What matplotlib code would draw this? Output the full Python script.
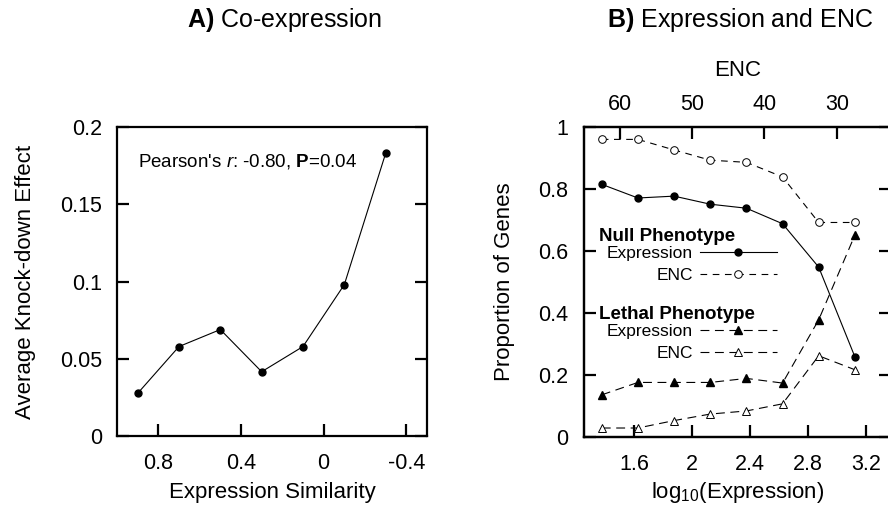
import matplotlib
matplotlib.use("Agg")
import matplotlib.pyplot as plt
from matplotlib.ticker import FormatStrFormatter

plt.rcParams["font.family"] = ["Liberation Sans", "DejaVu Sans"]
plt.rcParams["mathtext.fontset"] = "custom"
plt.rcParams["mathtext.rm"] = "Liberation Sans"
plt.rcParams["mathtext.it"] = "Liberation Sans:italic"
plt.rcParams["mathtext.bf"] = "Liberation Sans:bold"
plt.rcParams["axes.unicode_minus"] = False

# panel A: co-expression
similarity = [0.9, 0.7, 0.5, 0.3, 0.1, -0.1, -0.3]
knockdown = [0.0276, 0.0579, 0.0689, 0.0416, 0.0579, 0.098, 0.183]

# panel B: expression and ENC bins
expr_bins = [1.375, 1.625, 1.875, 2.125, 2.375, 2.625, 2.875, 3.125]
enc_bins = [62.5, 57.5, 52.5, 47.5, 42.5, 37.5, 32.5, 27.5]
null_expr = [0.815, 0.771, 0.777, 0.751, 0.738, 0.688, 0.548, 0.259]
null_enc = [0.960, 0.960, 0.926, 0.893, 0.886, 0.839, 0.692, 0.692]
lethal_expr = [0.136, 0.176, 0.176, 0.176, 0.189, 0.174, 0.378, 0.651]
lethal_enc = [0.029, 0.029, 0.053, 0.074, 0.084, 0.107, 0.262, 0.217]

W, H = 888, 516
TITLE_FS = 18
TICK_FS = 15.5
LABEL_FS = 16
SPINE_LW = 1.6


def style_axes(ax, pad=12):
    for s in ax.spines.values():
        s.set_linewidth(SPINE_LW)
    ax.tick_params(direction="in", length=8.5, width=SPINE_LW,
                   labelsize=TICK_FS, pad=pad)


fig = plt.figure(figsize=(W / 100, H / 100), dpi=100)

# ---- A) Co-expression
axA = fig.add_axes([117 / W, 80 / H, 310 / W, 309 / H])
axA.plot(similarity, knockdown, color="black", lw=0.8,
         marker="o", ms=5, mfc="black", mec="black")
axA.set_xlim(1.0, -0.5)
axA.set_ylim(0, 0.2)
axA.set_xticks([0.8, 0.4, 0, -0.4])
axA.set_yticks([0, 0.05, 0.1, 0.15, 0.2])
axA.xaxis.set_major_formatter(FormatStrFormatter("%g"))
axA.yaxis.set_major_formatter(FormatStrFormatter("%g"))
style_axes(axA)
axA.tick_params(axis="y", right=True, pad=10.5)
axA.set_xlabel("Expression Similarity", fontsize=LABEL_FS)
axA.set_ylabel("Average Knock-down Effect", fontsize=LABEL_FS)
axA.xaxis.set_label_coords(0.5, -0.148)
axA.yaxis.set_label_coords(-0.262, 0.5)
axA.text(0.068, 0.871, r"Pearson's $r$: -0.80, $\mathbf{P}$=0.04",
         transform=axA.transAxes, fontsize=13.5, ha="left", va="baseline")

# ---- B) Expression and ENC
axB = fig.add_axes([583.7 / W, 79 / H, 307.3 / W, 310 / H])
axE = axB.twiny()

l_null_expr, = axB.plot(expr_bins, null_expr, color="black", lw=0.8,
                        marker="o", ms=5, mfc="black", mec="black")
l_lethal_expr, = axB.plot(expr_bins, lethal_expr, color="black", lw=0.8,
                          ls=(0, (8, 5)), marker="^", ms=5.5,
                          mfc="black", mec="black")
l_null_enc, = axE.plot(enc_bins, null_enc, color="black", lw=0.8,
                       ls=(0, (6, 5)), marker="o", ms=5.5,
                       mfc="white", mec="black", mew=0.7)
l_lethal_enc, = axE.plot(enc_bins, lethal_enc, color="black", lw=0.8,
                         ls=(0, (8, 5)), marker="^", ms=6,
                         mfc="white", mec="black", mew=0.7)

axB.set_xlim(1.25, 3.375)
axB.set_ylim(0, 1)
axE.set_xlim(65, 22.5)
axB.set_xticks([1.6, 2, 2.4, 2.8, 3.2])
axB.set_yticks([0, 0.2, 0.4, 0.6, 0.8, 1])
axE.set_xticks([60, 50, 40, 30])
axB.xaxis.set_major_formatter(FormatStrFormatter("%g"))
axB.yaxis.set_major_formatter(FormatStrFormatter("%g"))
style_axes(axB)
style_axes(axE, pad=9)
axB.tick_params(axis="y", right=True, pad=11)
axB.tick_params(axis="x", top=False)
axE.tick_params(axis="x", top=True, bottom=False)
axB.set_xlabel(r"log$_{10}$(Expression)", fontsize=LABEL_FS)
axB.set_ylabel("Proportion of Genes", fontsize=LABEL_FS)
axE.set_xlabel("ENC", fontsize=LABEL_FS)
axB.xaxis.set_label_coords(0.5, -0.138)
axB.yaxis.set_label_coords(-0.225, 0.5)
axE.xaxis.set_label_coords(0.5, 1.165)

# legend groups: bold heading + entries with the sample on the right
group_kw = dict(transform=axB.transAxes, fontsize=13.5, fontweight="bold",
                ha="left", va="baseline")
leg_kw = dict(frameon=False, markerfirst=False, loc="upper left",
              borderaxespad=0, borderpad=0, handlelength=4.4,
              handletextpad=0.4, labelspacing=0.39, fontsize=12.5)

axB.text(0.05, 0.632, "Null Phenotype", **group_kw)
leg1 = axB.legend([l_null_expr, l_null_enc], ["Expression", "ENC"],
                  bbox_to_anchor=(0.076, 0.617), **leg_kw)
axB.add_artist(leg1)

axB.text(0.05, 0.380, "Lethal Phenotype", **group_kw)
axB.legend([l_lethal_expr, l_lethal_enc], ["Expression", "ENC"],
           bbox_to_anchor=(0.076, 0.365), **leg_kw)

fig.text(284 / W, 1 - 27.3 / H, r"$\mathbf{A)}$ Co-expression",
         fontsize=TITLE_FS, ha="center", va="baseline")
fig.text(740 / W, 1 - 27.3 / H, r"$\mathbf{B)}$ Expression and ENC",
         fontsize=TITLE_FS, ha="center", va="baseline")

fig.savefig("out.png", dpi=100)
